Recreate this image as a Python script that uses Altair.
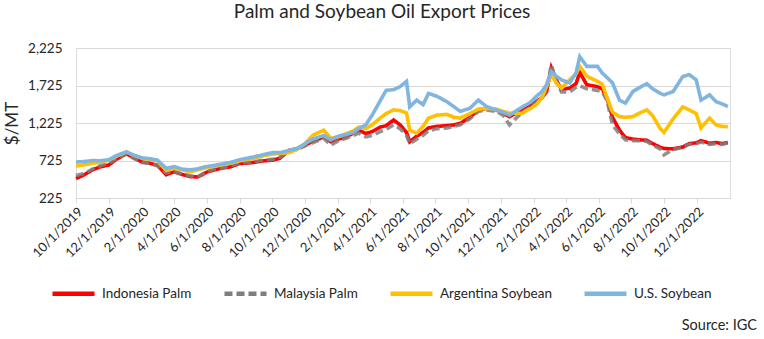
import altair as alt
import pandas as pd

dates = [
    "2019-10-01", "2019-10-15", "2019-11-01", "2019-11-15", "2019-12-01", "2019-12-15",
    "2020-01-03", "2020-01-15", "2020-02-01", "2020-02-15", "2020-03-01", "2020-03-17",
    "2020-04-01", "2020-04-15", "2020-05-01", "2020-05-15", "2020-06-01", "2020-06-15",
    "2020-07-01", "2020-07-15", "2020-08-01", "2020-08-15", "2020-09-01", "2020-09-15",
    "2020-10-01", "2020-10-15", "2020-11-01", "2020-11-15", "2020-12-01", "2020-12-15",
    "2021-01-05", "2021-01-18", "2021-02-01", "2021-02-15", "2021-03-01", "2021-03-11",
    "2021-03-24", "2021-04-05", "2021-04-20", "2021-05-01", "2021-05-15", "2021-05-27",
    "2021-06-08", "2021-06-14", "2021-06-27", "2021-07-09", "2021-07-19", "2021-08-04",
    "2021-08-22", "2021-09-05", "2021-09-16", "2021-10-04", "2021-10-20", "2021-11-04",
    "2021-11-22", "2021-12-05", "2021-12-17",
    "2022-01-10", "2022-01-25", "2022-02-05", "2022-02-15", "2022-02-24", "2022-03-05",
    "2022-03-14", "2022-03-24", "2022-04-08", "2022-04-20", "2022-04-27", "2022-05-10",
    "2022-05-30", "2022-06-08", "2022-06-17", "2022-06-27", "2022-07-10", "2022-07-21",
    "2022-08-04", "2022-08-17", "2022-08-30", "2022-09-10", "2022-09-24", "2022-10-01",
    "2022-10-18", "2022-11-05", "2022-11-17", "2022-11-30", "2022-12-09", "2022-12-25",
    "2023-01-06", "2023-01-17", "2023-01-28",
]

indonesia_palm = [
    485, 530, 600, 640, 665, 740,
    815, 770, 705, 690, 660, 535,
    575, 540, 510, 505, 570, 600,
    625, 640, 685, 690, 705, 720,
    730, 755, 860, 880, 930, 980,
    1040, 975, 1010, 1040, 1090, 1130,
    1085, 1110, 1170, 1190, 1265, 1200,
    1100, 975, 1050, 1100, 1160, 1180,
    1190, 1200, 1220, 1300, 1400, 1420,
    1400, 1360, 1310,
    1400, 1460, 1510, 1560, 1640, 1960,
    1800, 1670, 1690, 1750, 1900, 1735,
    1710, 1680, 1550, 1300, 1130, 1030,
    1010, 1000, 995, 950, 900, 885,
    880, 905, 950, 960, 990, 955,
    965, 950, 965,
]

malaysia_palm = [
    525, 550, 610, 655, 690, 750,
    810, 760, 700, 690, 655, 560,
    580, 545, 520, 510, 575, 610,
    630, 655, 690, 700, 715, 730,
    740, 770, 850, 870, 920, 960,
    1020, 930, 990, 1020, 1060, 1090,
    1040, 1060, 1110, 1140, 1200, 1150,
    1060, 950, 1010, 1060, 1120, 1150,
    1160, 1180, 1200, 1280, 1380, 1400,
    1380, 1330, 1200,
    1370, 1430, 1500, 1560, 1660, 2000,
    1780, 1640, 1640, 1700, 1720, 1680,
    1660, 1640, 1520, 1200, 1080, 1000,
    990, 990, 980, 930, 880, 800,
    870, 900, 940, 950, 970, 940,
    950, 940, 960,
]

argentina_soybean = [
    650, 665, 690, 700, 730, 780,
    840, 800, 755, 740, 720, 595,
    620, 600, 575, 600, 630, 650,
    670, 690, 720, 740, 760, 790,
    810, 820, 830, 870, 950, 1060,
    1130, 1020, 1040, 1080, 1120, 1170,
    1150, 1200, 1290, 1350, 1400, 1390,
    1360, 1130, 1090, 1180, 1290, 1330,
    1340, 1300, 1290, 1350, 1410, 1420,
    1410, 1380, 1355,
    1355, 1420, 1470, 1560, 1710, 1870,
    1760, 1690, 1800, 1880, 1980, 1850,
    1780, 1740, 1560, 1370, 1310, 1300,
    1310, 1360, 1400, 1320, 1150, 1100,
    1280, 1440, 1400, 1350, 1160, 1290,
    1200, 1180, 1175,
]

us_soybean = [
    705, 710, 725, 720, 735, 790,
    840, 800, 760, 750, 730, 620,
    645, 610, 600, 615, 645, 660,
    680, 700, 735, 755, 780, 805,
    830, 830, 860, 880, 950, 1010,
    1060, 1000, 1050, 1070, 1100, 1150,
    1200, 1330, 1520, 1660, 1670, 1710,
    1780, 1440, 1530, 1470, 1620, 1580,
    1510, 1440, 1380, 1420, 1530, 1445,
    1400, 1370, 1330,
    1440, 1500, 1580, 1640, 1735, 1910,
    1850, 1800, 1760, 1890, 2110, 1980,
    1980, 1890, 1830, 1760, 1530, 1490,
    1645, 1700, 1750, 1680, 1620, 1600,
    1645, 1845, 1870, 1800, 1530, 1600,
    1510, 1480, 1445,
]

series_names = ["Indonesia Palm", "Malaysia Palm", "Argentina Soybean", "U.S. Soybean"]
series_values = [indonesia_palm, malaysia_palm, argentina_soybean, us_soybean]
series_colors = ["#FF0000", "#7F7F7F", "#FFC000", "#80B5DF"]
series_dashes = [[1, 0], [8, 4], [1, 0], [1, 0]]

y_ticks = [225, 725, 1225, 1725, 2225]
x_tick_dates = [
    (2019, 10), (2019, 12), (2020, 2), (2020, 4), (2020, 6), (2020, 8), (2020, 10), (2020, 12),
    (2021, 2), (2021, 4), (2021, 6), (2021, 8), (2021, 10), (2021, 12),
    (2022, 2), (2022, 4), (2022, 6), (2022, 8), (2022, 10), (2022, 12),
]

rows = []
for name, vals in zip(series_names, series_values):
    for d, v in zip(dates, vals):
        rows.append({"date": d + "T00:00:00", "series": name, "value": v})
df = pd.DataFrame(rows)

FONT = "Lato"
TXT = "#262626"

x_enc = alt.X(
    "date:T",
    scale=alt.Scale(domain=[alt.DateTime(year=2019, month=10, date=1),
                            alt.DateTime(year=2023, month=2, date=1)]),
    axis=alt.Axis(
        values=[alt.DateTime(year=y, month=m, date=1) for y, m in x_tick_dates],
        format="%-m/%-d/%Y", labelAngle=-45, grid=False, title=None,
        domainColor="#D9D9D9", tickColor="#D9D9D9", tickSize=5,
        labelFontSize=13, labelFont=FONT, labelColor=TXT, labelPadding=2,
        labelOverlap=False, labelFlush=False,
    ),
)
y_enc = alt.Y(
    "value:Q",
    scale=alt.Scale(domain=[225, 2225], nice=False, zero=False),
    axis=alt.Axis(
        values=y_ticks, format=",.0f", title="$/MT", grid=True, gridColor="#D9D9D9",
        gridWidth=1, domain=False, ticks=False, labelPadding=14,
        labelFontSize=13.5, labelFont=FONT, labelColor=TXT,
        titleFontSize=17, titleFont=FONT, titleFontWeight="normal", titleColor=TXT,
        titleX=-64, titleY=75, titleAngle=-90, titleAlign="center", titleBaseline="middle",
    ),
)
legend_params = dict(
    orient="none", legendX=-26, legendY=222, direction="horizontal", columns=4,
    title=None, symbolType="stroke", symbolSize=1764, symbolStrokeWidth=4.5,
    labelFontSize=13.5, labelFont=FONT, labelColor=TXT, columnPadding=23,
    labelOffset=5,
)
color_enc = alt.Color(
    "series:N",
    scale=alt.Scale(domain=series_names, range=series_colors),
    legend=alt.Legend(**legend_params),
)
dash_enc = alt.StrokeDash(
    "series:N",
    scale=alt.Scale(domain=series_names, range=series_dashes),
    legend=alt.Legend(**legend_params),
)

base = alt.Chart(df).mark_line(strokeWidth=3.6).encode(
    x=x_enc, y=y_enc, color=color_enc, strokeDash=dash_enc
)

layers = []
for name in series_names:
    op = 0.85 if name == "Malaysia Palm" else 1.0
    layers.append(
        base.transform_filter(alt.datum.series == name).mark_line(strokeWidth=3.6, opacity=op)
    )

source = alt.Chart(pd.DataFrame({"t": ["Source: IGC"]})).mark_text(
    align="right", baseline="middle", fontSize=14.5, font=FONT, color=TXT
).encode(text="t:N", x=alt.value(681), y=alt.value(278))

chart = alt.layer(*layers, source).properties(
    width=654, height=150,
    padding={"left": 76, "top": 48, "right": 34, "bottom": 141},
    autosize=alt.AutoSizeParams(type="none"),
    title=alt.TitleParams(
        "Palm and Soybean Oil Export Prices", fontSize=19, font=FONT,
        fontWeight="normal", color=TXT, anchor="middle", frame="group", dx=-21, offset=19,
    ),
).configure_view(stroke=None).configure(background="white")

chart.save("out.html", embed_options={"renderer": "svg", "actions": False})
